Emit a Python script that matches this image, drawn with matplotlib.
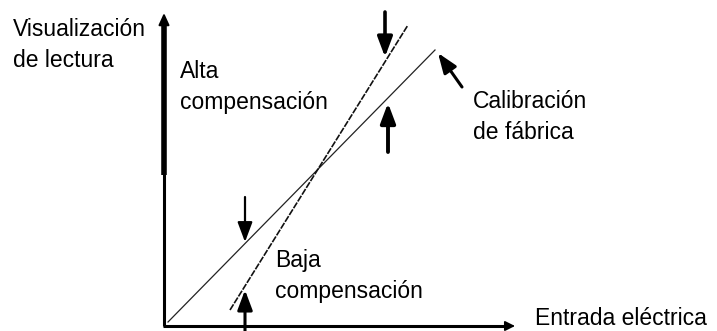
import matplotlib
matplotlib.use('Agg')
import matplotlib.pyplot as plt

# diagram in pixel-like units, origin at the axes corner
calib_x = [4, 271]
calib_y = [4, 276]
high_x = [66, 244]
high_y = [16, 301]

# arrows: (tail, tip)
arrow_tails = [(221, 314), (224, 174), (81, 129), (81, -5), (298, 239)]
arrow_tips = [(221, 269), (224, 223), (81, 84), (81, 36), (274, 273)]

labels = ['Visualización\nde lectura', 'Alta\ncompensación',
          'Calibración\nde fábrica', 'Baja\ncompensación', 'Entrada eléctrica']
# baseline of the last line of each label
label_pos = [(-151, 259), (16, 217), (309, 187), (111, 28), (371, 1)]

FONT = 'Liberation Sans'

fig = plt.figure(figsize=(7.17, 3.31), dpi=100)
ax = fig.add_axes([0, 0, 1, 1])
ax.set_xlim(-164, 553)
ax.set_ylim(-5, 326)
ax.axis('off')

# axes
ax.plot([0, 0], [0, 306], color='black', lw=2.2, solid_capstyle='butt')
ax.plot([0, 0], [151, 306], color='black', lw=4.0, solid_capstyle='butt')
ax.annotate('', xy=(0, 313), xytext=(0, 300),
            arrowprops=dict(arrowstyle='-|>,head_length=7,head_width=3.2',
                            mutation_scale=1, lw=1.5, color='black',
                            shrinkA=0, shrinkB=0))
ax.plot([-1, 344], [0, 0], color='black', lw=2.2, solid_capstyle='butt')
ax.annotate('', xy=(351, 0), xytext=(340, 0),
            arrowprops=dict(arrowstyle='-|>,head_length=6,head_width=3',
                            mutation_scale=1, lw=1.2, color='black',
                            shrinkA=0, shrinkB=0))

# lines
ax.plot(calib_x, calib_y, color='#222222', lw=0.9)
ax.plot(high_x, high_y, color='#111111', lw=1.2, linestyle=(0, (4, 0.8)))

# arrows
widths = [2.6, 2.8, 1.6, 2.2, 2.2]
for (tx, ty), (hx, hy), w in zip(arrow_tails, arrow_tips, widths):
    ax.annotate('', xy=(hx, hy), xytext=(tx, ty),
                arrowprops=dict(arrowstyle='-|>,head_length=12,head_width=4.5',
                                mutation_scale=1, lw=w, color='black',
                                shrinkA=0, shrinkB=0),
                annotation_clip=False)

for txt, (x, y) in zip(labels, label_pos):
    ax.text(x, y, txt, ha='left', va='baseline', fontsize=16.5,
            family=FONT, linespacing=1.45, color='black')

fig.savefig('out.png', dpi=100, facecolor='white')
